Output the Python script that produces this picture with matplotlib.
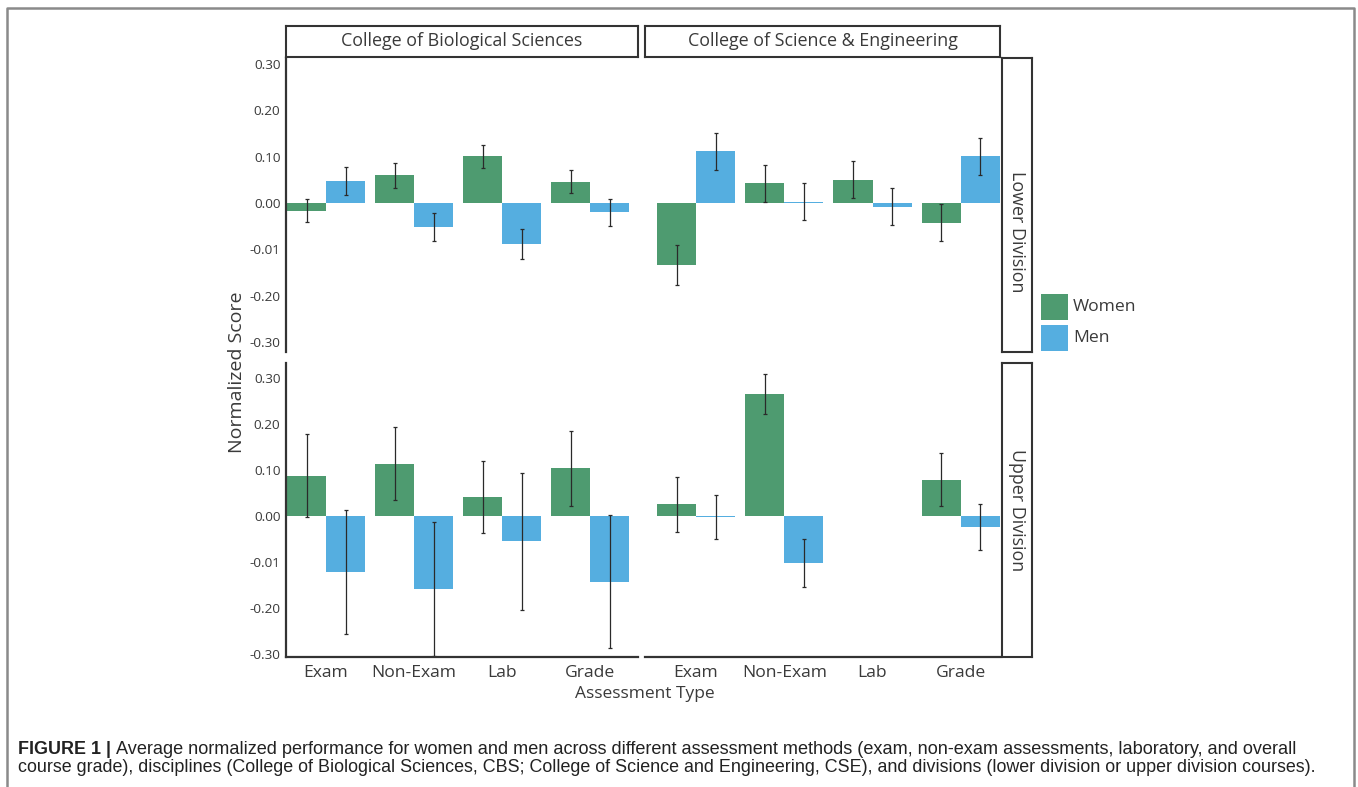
import matplotlib.pyplot as plt
import numpy as np
from matplotlib.patches import Rectangle
from matplotlib.lines import Line2D

# data
categories = ['Exam', 'Non-Exam', 'Lab', 'Grade']
y_ticks = [0.30, 0.20, 0.10, 0.00, -0.10, -0.20, -0.30]
y_tick_labels = ['0.30', '0.20', '0.10', '0.00', '-0.01', '-0.20', '-0.30']
colleges = ['College of Biological Sciences', 'College of Science & Engineering']
divisions = ['Lower Division', 'Upper Division']
legend_labels = ['Women', 'Men']

cbs_lower_women = [-0.017, 0.060, 0.101, 0.046]
cbs_lower_women_err = [0.025, 0.027, 0.025, 0.025]
cbs_lower_men = [0.047, -0.052, -0.089, -0.020]
cbs_lower_men_err = [0.030, 0.030, 0.032, 0.029]

cse_lower_women = [-0.134, 0.042, 0.050, -0.043]
cse_lower_women_err = [0.043, 0.040, 0.040, 0.040]
cse_lower_men = [0.112, 0.003, -0.008, 0.101]
cse_lower_men_err = [0.040, 0.040, 0.040, 0.040]

cbs_upper_women = [0.088, 0.114, 0.042, 0.104]
cbs_upper_women_err = [0.091, 0.080, 0.078, 0.082]
cbs_upper_men = [-0.122, -0.159, -0.055, -0.143]
cbs_upper_men_err = [0.134, 0.145, 0.149, 0.145]

cse_upper_women = [0.025, 0.266, np.nan, 0.079]
cse_upper_women_err = [0.060, 0.043, np.nan, 0.057]
cse_upper_men = [-0.003, -0.102, np.nan, -0.023]
cse_upper_men_err = [0.048, 0.052, np.nan, 0.050]

caption_bold = 'FIGURE 1 |'
caption_line1 = ('Average normalized performance for women and men across different assessment methods '
                 '(exam, non-exam assessments, laboratory, and overall')
caption_line2 = ('course grade), disciplines (College of Biological Sciences, CBS; College of Science and '
                 'Engineering, CSE), and divisions (lower division or upper division courses).')

green = '#4E9B70'
blue = '#55AEE0'
dark = '#3a3a3a'
W, H = 1358, 787

plt.rcParams['font.family'] = ['Open Sans', 'DejaVu Sans']

fig = plt.figure(figsize=(W / 100, H / 100), dpi=100)


def px_axes(x0, y0, x1, y1, **kw):
    return fig.add_axes([x0 / W, 1 - y1 / H, (x1 - x0) / W, (y1 - y0) / H], **kw)


panels = {
    (0, 0): (cbs_lower_women, cbs_lower_women_err, cbs_lower_men, cbs_lower_men_err),
    (0, 1): (cse_lower_women, cse_lower_women_err, cse_lower_men, cse_lower_men_err),
    (1, 0): (cbs_upper_women, cbs_upper_women_err, cbs_upper_men, cbs_upper_men_err),
    (1, 1): (cse_upper_women, cse_upper_women_err, cse_upper_men, cse_upper_men_err),
}
col_x = [(286, 638), (645, 1000)]
row_y = [(58, 352), (363, 657)]
row_ylim = [(-0.322, 0.313), (-0.307, 0.333)]
col_xlim = [(-0.455, 3.545), (-0.579, 3.445)]
bw = 0.443
x = np.arange(len(categories))

for (r, c), (wv, we, mv, me) in panels.items():
    ax = px_axes(col_x[c][0], row_y[r][0], col_x[c][1], row_y[r][1])
    ax.bar(x - bw / 2, wv, bw, color=green, linewidth=0)
    ax.bar(x + bw / 2, mv, bw, color=blue, linewidth=0)
    ax.errorbar(x - bw / 2, wv, yerr=we, fmt='none', ecolor='#2a2a2a', elinewidth=0.9, capsize=1.5, capthick=0.9)
    ax.errorbar(x + bw / 2, mv, yerr=me, fmt='none', ecolor='#2a2a2a', elinewidth=0.9, capsize=1.5, capthick=0.9)
    ax.set_xlim(*col_xlim[c])
    ax.set_ylim(*row_ylim[r])
    for s in ['top', 'right', 'left', 'bottom']:
        ax.spines[s].set_visible(False)
    ax.spines['left'].set_visible(c == 0)
    ax.spines['bottom'].set_visible(r == 1)
    for s in ['left', 'bottom']:
        ax.spines[s].set_color('#333333')
        ax.spines[s].set_linewidth(1.6)
    ax.set_yticks(y_ticks)
    if c == 0:
        ax.set_yticklabels(y_tick_labels)
    else:
        ax.set_yticklabels([])
    ax.set_xticks(x)
    if r == 1:
        ax.set_xticklabels(categories)
    else:
        ax.set_xticklabels([])
    ax.tick_params(axis='y', length=0, pad=4, labelsize=9.7, labelcolor=dark)
    ax.tick_params(axis='x', length=0, pad=6, labelsize=12.6, labelcolor=dark)
    ax.patch.set_alpha(0)

# strips
for c, name in enumerate(colleges):
    sa = px_axes(col_x[c][0], 26, col_x[c][1], 57)
    sa.set_xticks([]); sa.set_yticks([])
    for s in sa.spines.values():
        s.set_color('#333333'); s.set_linewidth(1.5)
    sa.text(0.5, 0.5, name, ha='center', va='center', fontsize=12.9, color=dark, transform=sa.transAxes)

div_text_y = [232, 510]
for r, name in enumerate(divisions):
    sa = px_axes(1002, row_y[r][0], 1032, row_y[r][1])
    sa.set_xticks([]); sa.set_yticks([])
    for s in sa.spines.values():
        s.set_color('#333333'); s.set_linewidth(1.5)
    fig.text(1017 / W, 1 - div_text_y[r] / H, name, ha='center', va='center', rotation=-90,
             fontsize=12.9, color=dark)

fig.text(237 / W, 1 - 372 / H, 'Normalized Score', rotation=90, ha='center', va='center', fontsize=14, color=dark)
fig.text(645 / W, 1 - 694 / H, 'Assessment Type', ha='center', va='center', fontsize=12.5, color=dark)

# legend drawn as squares + labels
leg_y = [(294, 320), (325, 351)]
for (y0, y1), col, lab in zip(leg_y, [green, blue], legend_labels):
    fig.add_artist(Rectangle((1041 / W, 1 - y1 / H), 27 / W, (y1 - y0) / H,
                             transform=fig.transFigure, facecolor=col, edgecolor='none'))
    fig.text(1073 / W, 1 - (y0 + y1) / 2 / H, lab, ha='left', va='center', fontsize=12.6, color=dark)

# outer border
fig.add_artist(Line2D([7 / W, 7 / W, 1354 / W, 1354 / W], [0, 1 - 8 / H, 1 - 8 / H, 0],
                      transform=fig.transFigure, color='#8a8a8a', linewidth=1.8))

# caption
fig.text(18 / W, 1 - 749 / H, caption_bold, ha='left', va='center', fontsize=12.9,
         fontweight='bold', family='Liberation Sans', color='#222222')
fig.text(116 / W, 1 - 749 / H, caption_line1, ha='left', va='center', fontsize=13.1,
         family='Liberation Sans', color='#222222')
fig.text(18 / W, 1 - 768 / H, caption_line2, ha='left', va='center', fontsize=12.9,
         family='Liberation Sans', color='#222222')

fig.savefig('out.png', dpi=100)
